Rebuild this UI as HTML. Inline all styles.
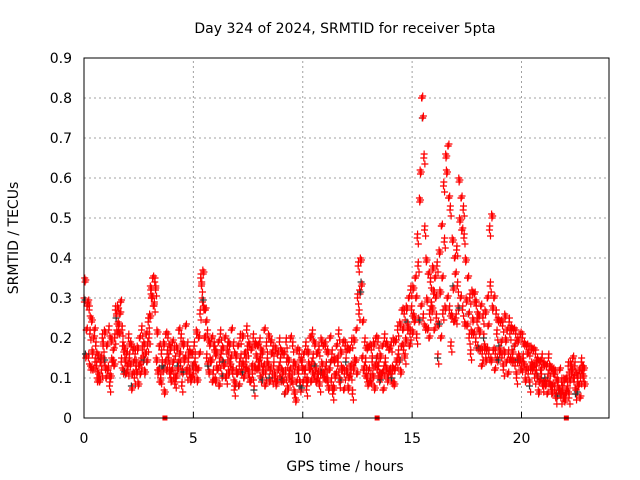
<!DOCTYPE html>
<html><head><meta charset="utf-8"><style>
body{margin:0;background:#fff;}
svg{display:block;font-family:"DejaVu Sans","Liberation Sans",sans-serif;}
</style></head><body>
<svg id="chart" width="640" height="480">
<text x="345" y="33" font-size="14" text-anchor="middle">Day 324 of 2024, SRMTID for receiver 5pta</text>
<text x="18" y="238" font-size="14" text-anchor="middle" transform="rotate(-90 18 238)">SRMTID / TECUs</text>
<text x="345" y="471" font-size="14" text-anchor="middle">GPS time / hours</text>
<g id="grid"></g><g id="marks"></g><g id="axes"></g>
</svg>
<script>
const xTicks=[0,5,10,15,20];
const yTicks=[0,0.1,0.2,0.3,0.4,0.5,0.6,0.7,0.8,0.9];
const squareTimes=[3.7,13.4,22.05];
const seriesA=[30,22,15,13,12,14,10,9,12,15,10,12,11,14,20,22,21,14,12,11,12,14,11,10,12,13,14,15,16,18,26,30,28,15,12,10,13,14,16,12,12,10,11,14,13,12,15,11,12,10,11,13,12,26,30,20,15,12,14,11,10,12,14,11,13,10,12,15,11,9,11,13,12,10,14,12,9,11,13,12,12,10,13,11,14,12,10,11,9,12,10,9,11,8,12,10,7,9,11,8,9,11,10,12,13,11,9,10,12,11,11,10,12,9,8,11,13,10,12,11,12,10,11,13,14,30,32,15,12,11,12,10,11,13,12,10,11,12,13,11,11,13,12,14,15,18,17,20,22,21,22,24,20,25,28,25,23,22,26,28,22,25,24,20,26,28,30,27,26,24,25,28,30,27,24,23,20,22,21,19,18,17,16,18,17,16,15,17,16,15,16,15,17,14,16,15,14,13,15,14,13,14,12,11,13,12,10,11,9,10,9,8,10,9,8,7,6,7,5,6,6,8,10,12,9,7,8,10,11];
const seriesB=[35,28,27,25,20,18,16,14,20,22,18,22,20,17,27,28,26,22,18,16,20,19,17,16,18,20,22,19,21,24,33,35,34,22,18,16,19,21,20,18,19,17,18,22,20,19,23,18,17,16,18,22,20,35,37,27,21,19,20,18,17,19,21,18,20,16,19,22,18,16,18,20,21,16,22,19,17,20,19,18,19,17,22,18,21,19,17,18,16,19,17,16,19,15,20,18,14,17,16,15,16,18,17,20,21,19,16,17,20,18,18,17,20,16,15,18,21,17,19,18,18,17,19,20,22,38,40,24,19,18,18,17,19,20,19,16,18,20,19,17,18,20,19,22,24,27,26,28,30,32,33,35,45,55,80,65,40,36,34,38,35,38,42,48,58,66,68,52,45,40,42,60,55,52,40,35,30,32,31,28,26,28,25,27,30,47,51,30,26,25,24,23,26,22,24,23,22,21,20,21,20,19,18,17,18,17,16,15,14,15,14,13,15,13,12,11,10,12,9,10,10,13,14,15,13,11,12,14,13];
const seriesC=[16,29,21,17,22,13,11,15,18,13,12,8,15,13,25,24,29,18,15,13,15,8,14,13,9,11,17,12,14,20,31,28,32,12,9,13,7,12,15,10,14,9,13,16,8,15,12,14,10,13,14,10,16,33,28,24,13,15,9,17,13,8,16,14,10,18,14,12,7,12,8,15,14,12,17,10,13,7,16,14,15,12,8,14,10,16,13,9,12,14,12,6,14,11,9,13,5,12,8,13,12,7,14,9,15,13,11,8,14,10,13,8,14,6,11,15,9,13,7,14,8,13,6,15,11,26,34,12,14,9,9,14,8,15,13,11,7,14,10,12,10,9,14,16,12,22,15,24,18,27,26,30,38,62,75,47,30,20,28,32,30,15,32,35,44,62,55,18,33,36,33,50,47,45,30,26,16,25,29,24,22,13,20,15,23,33,28,12,21,18,19,12,20,11,21,17,18,10,16,12,15,10,16,8,14,13,12,7,12,8,10,6,12,7,11,5,8,6,7,5,7,5,12,10,6,9,5,12,9];
const X0=84,X1=609,Y0=418,Y1=58,XMAX=24,YMAX=0.9;
const xs=h=>X0+(X1-X0)*h/XMAX;
const ys=v=>Y0-(Y0-Y1)*v/YMAX;
const NS="http://www.w3.org/2000/svg";
function mk(tag,attrs,parent){const e=document.createElementNS(NS,tag);for(const k in attrs)e.setAttribute(k,attrs[k]);parent.appendChild(e);return e;}
const grid=document.getElementById('grid'),marks=document.getElementById('marks'),axes=document.getElementById('axes');
xTicks.forEach(t=>{
 if(t>0){const g=mk('line',{x1:xs(t),x2:xs(t),y1:Y0,y2:Y1,stroke:'#a0a0a0','stroke-dasharray':'2,3'},grid);
 
 }
 const l=mk('text',{x:xs(t),y:443,'font-size':14,'text-anchor':'middle'},axes);l.textContent=t;
 
 
 mk('line',{x1:xs(t),x2:xs(t),y1:Y0,y2:Y0-6,stroke:'#000'},axes);
});
yTicks.forEach(t=>{
 if(t>0&&t<YMAX){const g=mk('line',{x1:X0,x2:X1,y1:ys(t),y2:ys(t),stroke:'#a0a0a0','stroke-dasharray':'2,3'},grid);
 
 }
 const l=mk('text',{x:72,y:ys(t)+5,'font-size':14,'text-anchor':'end'},axes);l.textContent=t===0?'0':t.toFixed(1);
 
 
});
const box=mk('rect',{x:X0,y:Y1,width:X1-X0,height:Y0-Y1,fill:'none',stroke:'#000'},axes);


function plus(h,v,col){
 const x=xs(h),y=ys(v);
 const p=mk('path',{d:`M${x-3.5},${y}h7M${x},${y-3.5}v7`,stroke:col,'stroke-width':1.2},marks);
 
 
}
[seriesA,seriesB,seriesC].forEach((s,si)=>{
 s.forEach((v,i)=>{
  const h=i*0.1+si*0.033;
  plus(h,v/100,(si===2&&i%7===0)?'#333':'#ff0000');
  plus(h+0.016,(v+(i%3)-1)/100,'#ff0000');
  plus(h+0.05,(v+((i+1)%3)-1.5)/100,(si===0&&i%9===0)?'#333':'#ff0000');
 });
});
squareTimes.forEach(t=>{
 const r=mk('rect',{x:xs(t)-2.5,y:Y0-2.5,width:5,height:5,fill:'#ff0000'},marks);
 
 
});
</script>
</body></html>
